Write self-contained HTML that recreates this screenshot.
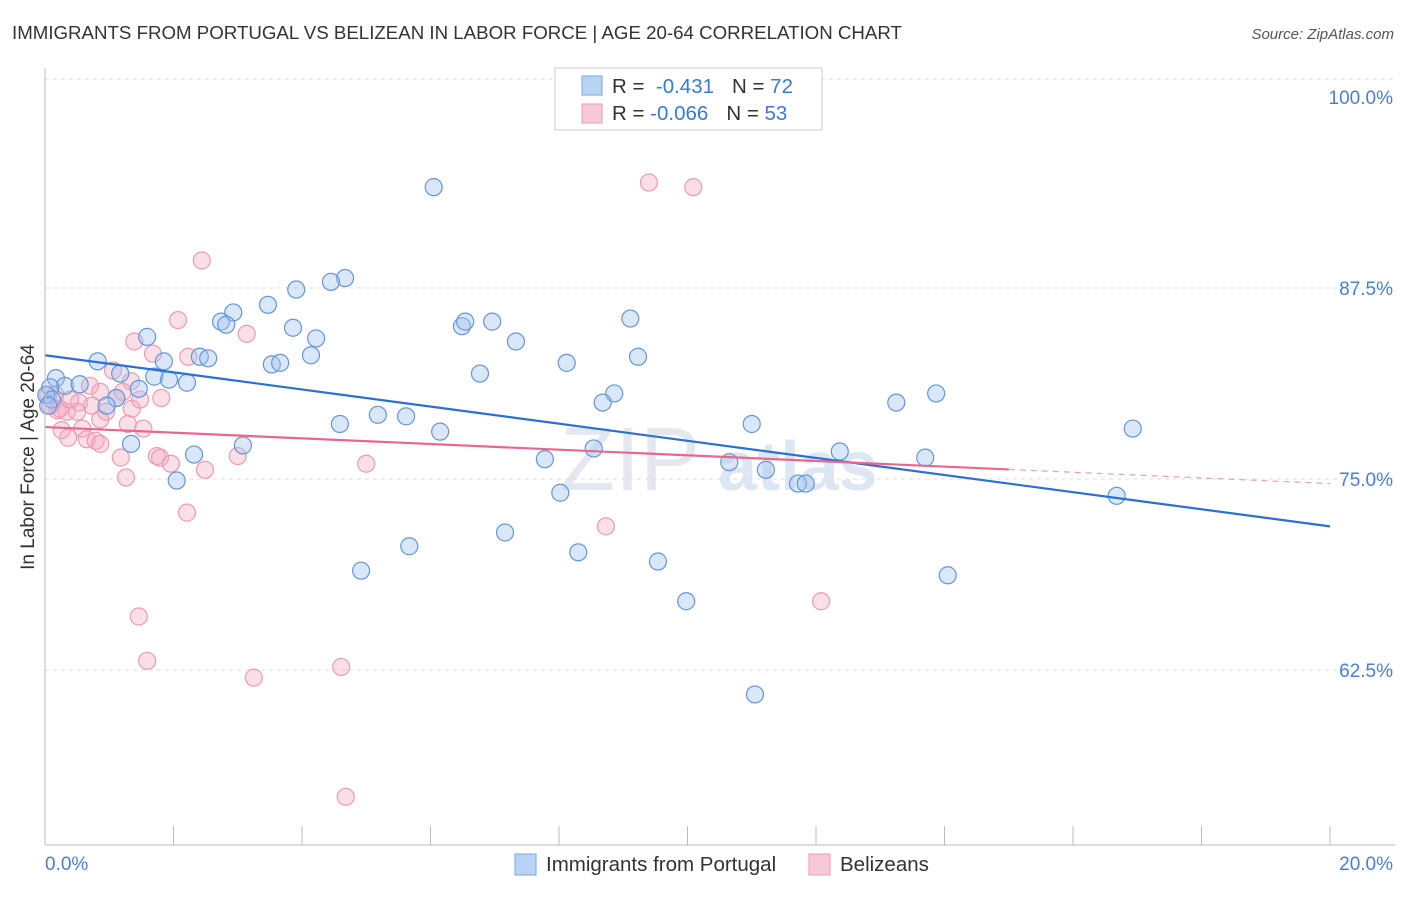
<!DOCTYPE html>
<html><head><meta charset="utf-8"><style>
body{margin:0;background:#fff;font-family:"Liberation Sans",sans-serif;}
svg text{font-family:"Liberation Sans",sans-serif;}
</style></head><body>
<svg id="c" width="1406" height="892">
<text x="12" y="39" font-size="18.7" fill="#333">IMMIGRANTS FROM PORTUGAL VS BELIZEAN IN LABOR FORCE | AGE 20-64 CORRELATION CHART</text>
<text x="1394" y="39" font-size="15" fill="#555" text-anchor="end" font-style="italic">Source: ZipAtlas.com</text>
<text transform="translate(34,457) rotate(-90)" font-size="19" fill="#333" text-anchor="middle">In Labor Force | Age 20-64</text>
<text x="560" y="490" font-size="90" fill="#e4e8ee" font-family="Liberation Serif">ZIP</text>
<text x="718" y="490" font-size="70" fill="#dde7f3" font-weight="bold">atlas</text>
<g id="grid"></g><g id="pts"></g><g id="trend"></g>
<line x1="45" y1="68" x2="45" y2="845" stroke="#bbb"/>
<line x1="45" y1="845" x2="1395" y2="845" stroke="#bbb"/>
<text x="45" y="870" font-size="19" fill="#4a7fd4">0.0%</text>
<text x="1393" y="870" font-size="19" fill="#4a7fd4" text-anchor="end">20.0%</text>
<g>
<rect x="515" y="854" width="21" height="21" fill="#b9d3f5" stroke="#7aa6e4"/>
<text x="546" y="871" font-size="20.5" fill="#333">Immigrants from Portugal</text>
<rect x="809" y="854" width="21" height="21" fill="#f9c8d6" stroke="#eb9ab2"/>
<text x="840" y="871" font-size="20.5" fill="#333">Belizeans</text>
</g>
<g>
<rect x="555" y="68" width="267" height="62" fill="#fff" stroke="#ccc"/>
<rect x="582" y="76" width="20" height="19" fill="#b9d3f5" stroke="#7aa6e4"/>
<rect x="582" y="104" width="20" height="19" fill="#f9c8d6" stroke="#eb9ab2"/>
<text x="612" y="93" font-size="20.5" fill="#333">R = <tspan fill="#3b78d8">&#160;-0.431</tspan><tspan dx="18">N = </tspan><tspan fill="#3b78d8">72</tspan></text>
<text x="612" y="120" font-size="20.5" fill="#333">R = <tspan fill="#3b78d8">-0.066</tspan><tspan dx="18">N = </tspan><tspan fill="#3b78d8">53</tspan></text>
</g>
</svg>
<script>
const yTicks=[100,87.5,75,62.5];
const yTickLabels=["100.0%","87.5%","75.0%","62.5%"];
const blueX=[6.05,4.67,4.45,3.91,3.47,2.93,2.74,2.82,1.59,3.86,4.22,6.49,6.54,6.96,7.33,9.11,8.12,9.23,4.14,2.41,2.54,3.53,3.66,1.85,0.82,1.17,0.17,0.31,0.54,1.70,1.93,2.21,1.46,1.11,0.96,6.77,8.86,8.68,13.25,13.87,4.59,5.18,5.62,6.15,1.34,3.08,2.32,2.05,7.78,8.54,11.0,10.65,11.22,11.72,11.84,12.37,13.7,16.93,16.68,8.02,7.16,5.67,8.30,4.92,9.54,9.98,14.05,11.05,0.08,0.02,0.11,0.05];
const blueY=[94.1,88.15,87.9,87.4,86.4,85.9,85.3,85.1,84.3,84.9,84.2,85.0,85.3,85.3,84.0,85.5,82.6,83.0,83.1,83.0,82.9,82.5,82.6,82.7,82.7,81.9,81.6,81.1,81.2,81.7,81.5,81.3,80.9,80.3,79.8,81.9,80.6,80.0,80.0,80.6,78.6,79.2,79.1,78.1,77.3,77.2,76.6,74.9,76.3,77.0,78.6,76.1,75.6,74.7,74.7,76.8,76.4,78.3,73.9,74.1,71.5,70.6,70.2,69.0,69.6,67.0,68.7,60.9,81.0,80.5,80.2,79.8];
const pinkX=[9.40,10.09,2.44,2.07,1.39,3.14,1.68,2.23,1.06,1.34,0.70,0.86,1.21,1.81,1.11,0.53,0.73,1.35,0.95,0.19,0.34,0.08,0.16,0.50,1.29,1.53,0.58,0.36,0.65,0.79,0.86,1.74,1.79,1.96,2.49,3.00,5.0,1.18,1.26,2.21,8.73,1.46,1.59,3.25,4.61,4.68,12.08,0.05,0.23,0.39,0.26,0.86,1.48];
const pinkY=[94.4,94.1,89.3,85.4,84.0,84.5,83.2,83.0,82.1,81.4,81.1,80.7,80.7,80.3,80.3,80.0,79.8,79.6,79.4,79.5,79.4,79.8,80.5,79.4,78.6,78.3,78.3,77.7,77.6,77.5,77.3,76.5,76.4,76.0,75.6,76.5,76.0,76.4,75.1,72.8,71.9,66.0,63.1,62.0,62.7,54.2,67.0,80.5,79.6,80.2,78.2,78.9,80.2];
const blueTrend=[83.1,71.9];
const pinkTrend=[78.4,74.7];
const pinkSolidEnd=15.0;

const NS="http://www.w3.org/2000/svg";
const X=v=>45+v/20*1285;
const Y=v=>97+(100-v)/12.5*191;
function mk(tag,attrs,parent){const e=document.createElementNS(NS,tag);for(const k in attrs)e.setAttribute(k,attrs[k]);parent.appendChild(e);return e;}
const grid=document.getElementById('grid');
const topGrid=mk('line',{x1:45,x2:1395,y1:79,y2:79,stroke:'#ddd','stroke-dasharray':'4,4'},grid);


yTicks.forEach((t,i)=>{
  if(i>0){const l=mk('line',{x1:45,x2:1395,y1:Y(t),y2:Y(t),stroke:'#ddd','stroke-dasharray':'4,4'},grid);
  
  }
  const tx=mk('text',{x:1393,y:Y(t)+7,'font-size':19,fill:'#4a7fd4','text-anchor':'end'},grid);
  tx.textContent=yTickLabels[i];
  
  
});
for(let i=0;i<=10;i++){const l=mk('line',{x1:X(i*2),x2:X(i*2),y1:826,y2:845,stroke:'#bbb'},grid);

}
const pts=document.getElementById('pts');
pinkX.forEach((x,i)=>{const c=mk('circle',{cx:X(x),cy:Y(pinkY[i]),r:8.5,fill:'rgba(244,170,192,0.38)',stroke:'#ec9bb3','stroke-width':1.2},pts);

});
blueX.forEach((x,i)=>{const c=mk('circle',{cx:X(x),cy:Y(blueY[i]),r:8.5,fill:'rgba(160,194,240,0.4)',stroke:'#6496dc','stroke-width':1.2},pts);

});
const tr=document.getElementById('trend');
const pY=x=>pinkTrend[0]+(pinkTrend[1]-pinkTrend[0])*x/20;
const bl=mk('line',{x1:X(0),y1:Y(blueTrend[0]),x2:X(20),y2:Y(blueTrend[1]),stroke:'#2a6fd6','stroke-width':2.2},tr);


const pl=mk('line',{x1:X(0),y1:Y(pY(0)),x2:X(pinkSolidEnd),y2:Y(pY(pinkSolidEnd)),stroke:'#e8678f','stroke-width':2.2},tr);


const pd=mk('line',{x1:X(pinkSolidEnd),y1:Y(pY(pinkSolidEnd)),x2:X(20),y2:Y(pY(20)),stroke:'#e8a0b6','stroke-width':1.2,'stroke-dasharray':'6,5'},tr);


</script>
</body></html>
